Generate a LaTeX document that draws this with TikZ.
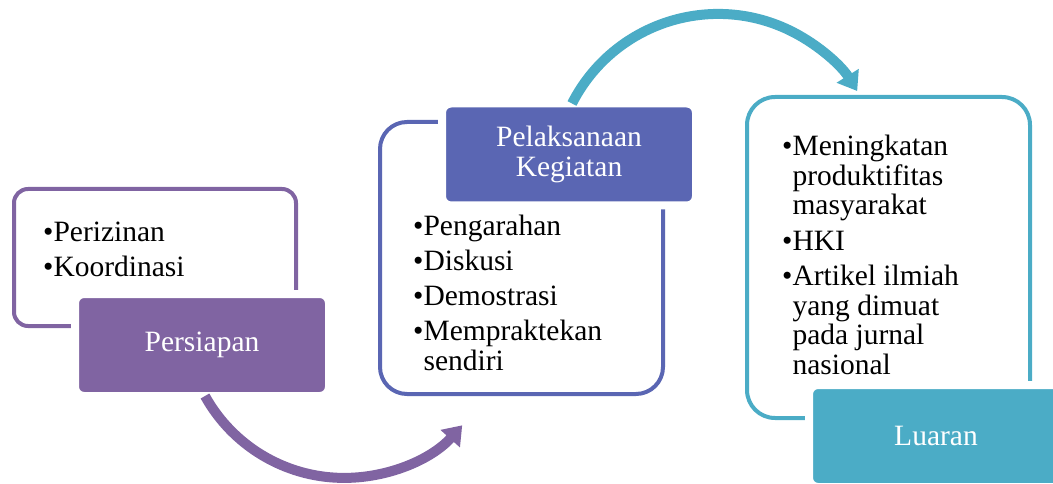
\documentclass[tikz,border=0pt]{standalone}
\usepackage{fontspec}
\setmainfont{Liberation Serif}
\usetikzlibrary{arrows.meta}
\definecolor{purp}{HTML}{8064A2}
\definecolor{indg}{HTML}{5A66B3}
\definecolor{aqua}{HTML}{4BACC6}
\newcommand{\bul}{\textbullet}
\newcommand{\ind}{\hphantom{\textbullet}}

\begin{document}
\begin{tikzpicture}[x=1pt, y=-1pt,
        every node/.append style={font=\fontsize{29.5}{29.5}\selectfont},
        listbox/.style={draw=#1, line width=4pt, fill=white},
        stage/.style={fill=#1, draw=white, line width=8pt, outer sep=0pt, text=white, minimum width=254pt, minimum height=102pt, rounded corners=9pt, align=center},
        items/.style={anchor=north west, inner sep=0pt, align=left},
        flowarrow/.style={draw=#1, line width=10pt, -{Triangle[width=25pt, length=18pt]}}]
        \useasboundingbox (0,0) rectangle (1053,484);

        \node [listbox=purp, rounded corners=14pt, minimum width=282pt, minimum height=137pt] (PF) at (155,257.5) {};
        \node [listbox=indg, rounded corners=27pt, minimum width=283pt, minimum height=272pt] (KF) at (521.5,258) {};
        \node [listbox=aqua, rounded corners=28pt, minimum width=283pt, minimum height=321pt] (LF) at (888.5,257.5) {};

        \node [stage=purp] (P) at (202,345) {Persiapan};
        \node [stage=indg] (K) at (569,154.5) {Pelaksanaan\\Kegiatan};
        \node [stage=aqua] (L) at (936,436) {Luaran};

        \node [items] (PT) at (43,222) {\bul Perizinan\\[5.5pt]\bul Koordinasi};
        \node [items] (KT) at (413,215) {\bul Pengarahan\\[5.5pt]\bul Diskusi\\[5.5pt]\bul Demostrasi\\[5.5pt]\bul Mempraktekan\\\ind sendiri};
        \node [items] (LT) at (782,135) {\bul Meningkatan\\\ind produktifitas\\\ind masyarakat\\[6pt]\bul HKI\\[6pt]\bul Artikel ilmiah\\\ind yang dimuat\\\ind pada jurnal\\\ind nasional};

        \draw [flowarrow=purp] ([xshift=3pt]P.south) arc [start angle=151, end angle=42, radius=159];
        \draw [flowarrow=aqua] ([xshift=3pt]K.north) arc [start angle=207, end angle=328, radius=164];
    \end{tikzpicture}
\end{document}
